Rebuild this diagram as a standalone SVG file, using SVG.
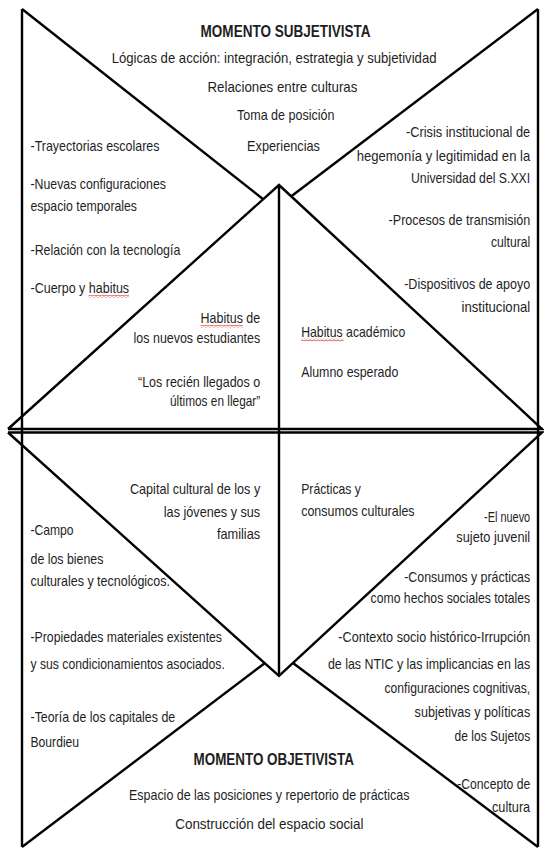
<svg xmlns="http://www.w3.org/2000/svg" width="544" height="852" viewBox="0 0 544 852">
<style>
.t{font-family:"Liberation Sans",Arial,"DejaVu Sans",sans-serif;font-size:15px;fill:#1e1e1e}
.b{font-weight:bold;font-size:16px}
.ln{stroke:#000;stroke-width:2.4;fill:none;stroke-linejoin:miter}
</style>
<defs>
<pattern id="sq" x="0" y="0" width="4" height="3" patternUnits="userSpaceOnUse">
<path d="M0 2.2 L2 0.8 L4 2.2" stroke="#e0302a" stroke-width="0.9" fill="none"/>
</pattern>
</defs>
<rect width="544" height="852" fill="#fff"/>
<g id="connectors">
<line class="ln" x1="22" y1="9" x2="22" y2="847"/>
<line class="ln" x1="538" y1="9" x2="538" y2="847"/>
<line class="ln" x1="22" y1="9" x2="263.5" y2="199.5"/>
<line class="ln" x1="538" y1="9" x2="291" y2="196.5"/>
<line class="ln" x1="22" y1="847" x2="265" y2="663"/>
<line class="ln" x1="538" y1="847" x2="293" y2="663"/>
<polyline class="ln" points="8,429 279,185 542,429 8,429"/>
<polyline class="ln" points="8,432.5 279,676 542,432.5 8,432.5"/>
<line class="ln" x1="279" y1="185" x2="279" y2="676"/>
</g>
<g id="momento-subjetivista">
<text class="t b" x="200.6" y="36.7" textLength="170" lengthAdjust="spacingAndGlyphs">MOMENTO SUBJETIVISTA</text>
<text class="t" x="111.7" y="63.3" textLength="324.8" lengthAdjust="spacingAndGlyphs">Lógicas de acción: integración, estrategia y subjetividad</text>
<text class="t" x="207.5" y="92.3" textLength="149.9" lengthAdjust="spacingAndGlyphs">Relaciones entre culturas</text>
<text class="t" x="237" y="120" textLength="97.5" lengthAdjust="spacingAndGlyphs">Toma de posición</text>
<text class="t" x="247" y="150.7" textLength="73" lengthAdjust="spacingAndGlyphs">Experiencias</text>
</g>
<g id="trayectorias">
<text class="t" x="30.5" y="150.7" textLength="129" lengthAdjust="spacingAndGlyphs">-Trayectorias escolares</text>
<text class="t" x="30.5" y="189" textLength="135.4" lengthAdjust="spacingAndGlyphs">-Nuevas configuraciones</text>
<text class="t" x="30.5" y="211" textLength="106.5" lengthAdjust="spacingAndGlyphs">espacio temporales</text>
<text class="t" x="30.5" y="255" textLength="149.9" lengthAdjust="spacingAndGlyphs">-Relación con la tecnología</text>
<text class="t" x="30.5" y="293.3" textLength="98.6" lengthAdjust="spacingAndGlyphs">-Cuerpo y habitus</text>
<rect x="88.5" y="295" width="40.5" height="3" fill="url(#sq)"/>
</g>
<g id="crisis-institucional">
<text class="t" x="406" y="137.3" textLength="124.2" lengthAdjust="spacingAndGlyphs">-Crisis institucional de</text>
<text class="t" x="356.7" y="160.7" textLength="173.5" lengthAdjust="spacingAndGlyphs">hegemonía y legitimidad en la</text>
<text class="t" x="411" y="183" textLength="119.2" lengthAdjust="spacingAndGlyphs">Universidad del S.XXI</text>
<text class="t" x="388.6" y="225" textLength="141.6" lengthAdjust="spacingAndGlyphs">-Procesos de transmisión</text>
<text class="t" x="491" y="246.7" textLength="39.2" lengthAdjust="spacingAndGlyphs">cultural</text>
<text class="t" x="404.2" y="289.3" textLength="126" lengthAdjust="spacingAndGlyphs">-Dispositivos de apoyo</text>
<text class="t" x="461.5" y="311.7" textLength="68.7" lengthAdjust="spacingAndGlyphs">institucional</text>
</g>
<g id="habitus-nuevos-estudiantes">
<text class="t" x="200.6" y="323.3" textLength="59.6" lengthAdjust="spacingAndGlyphs">Habitus de</text>
<rect x="200.6" y="325" width="42.4" height="3" fill="url(#sq)"/>
<text class="t" x="133.6" y="343.3" textLength="126.6" lengthAdjust="spacingAndGlyphs">los nuevos estudiantes</text>
<text class="t" x="138" y="386.7" textLength="122.2" lengthAdjust="spacingAndGlyphs">“Los recién llegados o</text>
<text class="t" x="170" y="406" textLength="90.2" lengthAdjust="spacingAndGlyphs">últimos en llegar”</text>
</g>
<g id="habitus-academico">
<text class="t" x="301.2" y="336.7" textLength="104.1" lengthAdjust="spacingAndGlyphs">Habitus académico</text>
<rect x="301.2" y="338.4" width="42.5" height="3" fill="url(#sq)"/>
<text class="t" x="301.2" y="376.7" textLength="97.1" lengthAdjust="spacingAndGlyphs">Alumno esperado</text>
</g>
<g id="capital-cultural">
<text class="t" x="130" y="494" textLength="130.2" lengthAdjust="spacingAndGlyphs">Capital cultural de los y</text>
<text class="t" x="163.8" y="516.7" textLength="96.4" lengthAdjust="spacingAndGlyphs">las jóvenes y sus</text>
<text class="t" x="216.9" y="539.3" textLength="43.3" lengthAdjust="spacingAndGlyphs">familias</text>
</g>
<g id="practicas-consumos">
<text class="t" x="301.2" y="494" textLength="59.7" lengthAdjust="spacingAndGlyphs">Prácticas y</text>
<text class="t" x="301.2" y="516" textLength="113.4" lengthAdjust="spacingAndGlyphs">consumos culturales</text>
</g>
<g id="campo-bienes">
<text class="t" x="30.5" y="535" textLength="43.1" lengthAdjust="spacingAndGlyphs">-Campo</text>
<text class="t" x="30.5" y="564" textLength="72.9" lengthAdjust="spacingAndGlyphs">de los bienes</text>
<text class="t" x="30.5" y="586" textLength="139.5" lengthAdjust="spacingAndGlyphs">culturales y tecnológicos.</text>
<text class="t" x="30.5" y="641.7" textLength="191.5" lengthAdjust="spacingAndGlyphs">-Propiedades materiales existentes</text>
<text class="t" x="30.5" y="669.3" textLength="194.3" lengthAdjust="spacingAndGlyphs">y sus condicionamientos asociados.</text>
<text class="t" x="30.5" y="721.7" textLength="144.7" lengthAdjust="spacingAndGlyphs">-Teoría de los capitales de</text>
<text class="t" x="30.5" y="747.3" textLength="48.6" lengthAdjust="spacingAndGlyphs">Bourdieu</text>
</g>
<g id="sujeto-juvenil">
<text class="t" x="484" y="521.7" textLength="46.2" lengthAdjust="spacingAndGlyphs">-El nuevo</text>
<text class="t" x="456.3" y="541.7" textLength="73.9" lengthAdjust="spacingAndGlyphs">sujeto juvenil</text>
<text class="t" x="404.2" y="581.7" textLength="126" lengthAdjust="spacingAndGlyphs">-Consumos y prácticas</text>
<text class="t" x="370.6" y="602.7" textLength="159.6" lengthAdjust="spacingAndGlyphs">como hechos sociales totales</text>
<text class="t" x="338.3" y="641.7" textLength="191.9" lengthAdjust="spacingAndGlyphs">-Contexto socio histórico-Irrupción</text>
<text class="t" x="327.9" y="669.3" textLength="202.3" lengthAdjust="spacingAndGlyphs">de las NTIC y las implicancias en las</text>
<text class="t" x="384.5" y="693.3" textLength="145.7" lengthAdjust="spacingAndGlyphs">configuraciones cognitivas,</text>
<text class="t" x="414.6" y="717.3" textLength="115.6" lengthAdjust="spacingAndGlyphs">subjetivas y políticas</text>
<text class="t" x="454.6" y="740.7" textLength="75.6" lengthAdjust="spacingAndGlyphs">de los Sujetos</text>
<text class="t" x="457.3" y="789.3" textLength="72.9" lengthAdjust="spacingAndGlyphs">-Concepto de</text>
<text class="t" x="492" y="811.7" textLength="38.2" lengthAdjust="spacingAndGlyphs">cultura</text>
</g>
<g id="momento-objetivista">
<text class="t b" x="193.6" y="765" textLength="160.3" lengthAdjust="spacingAndGlyphs">MOMENTO OBJETIVISTA</text>
<text class="t" x="129" y="800" textLength="280.4" lengthAdjust="spacingAndGlyphs">Espacio de las posiciones y repertorio de prácticas</text>
<text class="t" x="175.2" y="829" textLength="188.4" lengthAdjust="spacingAndGlyphs">Construcción del espacio social</text>
</g>
</svg>
